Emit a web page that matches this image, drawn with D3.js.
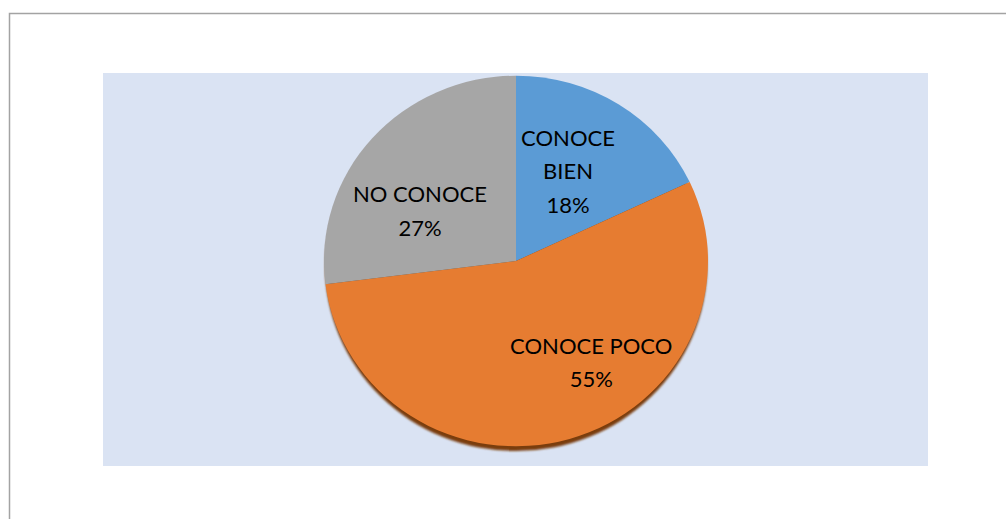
<!DOCTYPE html>
<html>
<head>
<meta charset="utf-8">
<script src="https://cdn.jsdelivr.net/npm/d3@7"></script>
<style>
  html, body { margin: 0; padding: 0; background: #ffffff; }
  svg { display: block; }
</style>
</head>
<body>
<svg id="chart" width="1006" height="519"></svg>
<script>
// ---- data ----
const categories = ["CONOCE BIEN", "CONOCE POCO", "NO CONOCE"];
const labelLines = [["CONOCE", "BIEN"], ["CONOCE POCO"], ["NO CONOCE"]];
const values = [18, 55, 27];
const colors = ["#5b9bd5", "#e67c31", "#a6a6a6"];

// ---- layout ----
const W = 1006, H = 519;
const cx = 516, cy = 261, R = 192, yScale = 0.965;
const labelR = 112;
// per-slice nudges to mimic Excel "best fit" label placement
const labelNudge = [[-8, 2], [44, -2], [-12, 22]];

const svg = d3.select("#chart");

// outer chart border (only left/top visible)
svg.append("path")
  .attr("d", `M9.5,${H} V13.5 H${W}`)
  .attr("fill", "none").attr("stroke", "#a3a3a3").attr("stroke-width", 1.5);

// plot area
svg.append("rect")
  .attr("x", 103).attr("y", 73).attr("width", 825).attr("height", 393)
  .attr("fill", "#dae3f3");

const pie = d3.pie().sort(null).value(d => d)(values);
const arc = d3.arc().innerRadius(0).outerRadius(R);

const g = svg.append("g")
  .attr("transform", `translate(${cx},${cy}) scale(1,${yScale})`);

// 3D edge / shadow
const defs = svg.append("defs");
defs.append("filter").attr("id", "blur")
  .append("feGaussianBlur").attr("stdDeviation", 1.2);

g.append("ellipse")
  .attr("cx", 0).attr("cy", 5).attr("rx", R - 1).attr("ry", R)
  .attr("fill", "#7a3d10").attr("filter", "url(#blur)");

g.selectAll("path.slice")
  .data(pie)
  .join("path")
  .attr("class", "slice")
  .attr("d", arc)
  .attr("fill", (d, i) => colors[i]);

// labels
const labelArc = d3.arc().innerRadius(labelR).outerRadius(labelR);
const lineH = 33.5;
pie.forEach((d, i) => {
  const c = labelArc.centroid(d);
  const x = cx + c[0] + labelNudge[i][0];
  const y = cy + c[1] * yScale + labelNudge[i][1];
  const lines = labelLines[i].concat([values[i] + "%"]);
  const t = svg.append("text")
    .attr("text-anchor", "middle")
    .attr("font-family", "Lato, 'Liberation Sans', Arial, sans-serif")
    .attr("font-size", 22)
    .attr("fill", "#000");
  lines.forEach((ln, k) => {
    t.append("tspan")
      .attr("x", x)
      .attr("y", y + (k - (lines.length - 1) / 2) * lineH)
      .attr("dy", "0.35em")
      .text(ln);
  });
});
</script>
</body>
</html>
